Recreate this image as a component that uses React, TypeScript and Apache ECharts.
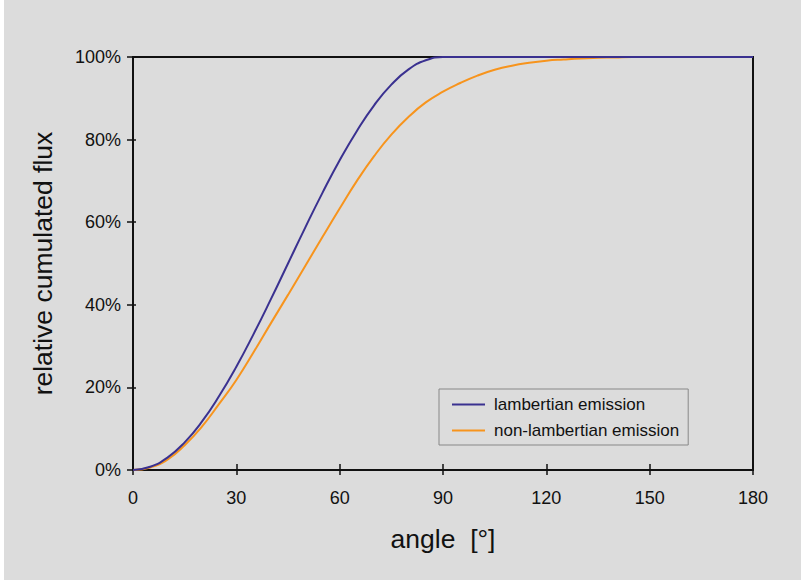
import React, { useEffect, useRef } from "react";
import * as echarts from "echarts";

const angles: number[] = [0,5,10,15,20,25,30,35,40,45,50,55,60,65,70,75,80,85,90,95,100,105,110,115,120,125,130,135,140,145,150,155,160,165,170,175,180];
const lambertian: number[] = [0,0.8,3,6.7,11.7,17.9,25,32.9,41.3,50,58.7,67.1,75,82.1,88.3,93.3,97,99.2,100,100,100,100,100,100,100,100,100,100,100,100,100,100,100,100,100,100,100];
const nonLambertian: number[] = [0,0.6,2.5,6,10.5,16,21.8,28.5,35.5,42.4,49.4,56.4,63.3,70,76,81.2,85.5,89,91.6,93.7,95.5,96.9,97.9,98.6,99.1,99.4,99.65,99.8,99.9,100,100,100,100,100,100,100,100];
const xTicks: number[] = [0, 30, 60, 90, 120, 150, 180];
const seriesNames: string[] = ["lambertian emission", "non-lambertian emission"];

const BG = "#dcdcdc";
const FONT = "'Liberation Sans', Arial, sans-serif";

export default function App() {
  const ref = useRef<HTMLDivElement>(null);
  useEffect(() => {
    if (!ref.current) return;
    const chart = echarts.init(ref.current, undefined, { renderer: "svg" });
    chart.setOption({
      animation: false,
      backgroundColor: BG,
      grid: { left: 129, top: 57, right: 48, bottom: 110, show: true, borderColor: "#111", borderWidth: 2, backgroundColor: BG },
      legend: {
        orient: "vertical",
        left: 435,
        top: 389,
        padding: [6, 9, 5, 13],
        icon: "rect",
        itemWidth: 33,
        itemHeight: 2,
        itemGap: 7,
        backgroundColor: BG,
        borderColor: "#888",
        borderWidth: 1,
        borderRadius: 0,
        textStyle: { fontFamily: FONT, fontSize: 17, lineHeight: 19, color: "#111", padding: [0, 0, 0, 4] },
        data: seriesNames,
      },
      xAxis: [
        {
          type: "value",
          min: 0,
          max: 180,
          interval: 30,
          name: "angle  [°]",
          nameLocation: "middle",
          nameGap: 55,
          nameTextStyle: { fontFamily: FONT, fontSize: 26.5, color: "#111" },
          axisLine: { show: true, lineStyle: { color: "#111", width: 2 } },
          axisTick: { show: true, length: 5, lineStyle: { color: "#111", width: 1.5 } },
          axisLabel: {
            margin: 19,
            fontFamily: FONT,
            fontSize: 18,
            color: "#111",
            formatter: (v: number) => (xTicks.includes(v) ? String(v) : ""),
          },
          splitLine: { show: false },
        },
        {
          type: "value",
          min: 0,
          max: 180,
          interval: 30,
          position: "bottom",
          axisLine: { show: false },
          axisTick: { show: true, inside: true, length: 6, lineStyle: { color: "#111", width: 1.5 } },
          axisLabel: { show: false },
          splitLine: { show: false },
        },
      ],
      yAxis: [
        {
          type: "value",
          min: 0,
          max: 100,
          interval: 20,
          name: "relative cumulated flux",
          nameLocation: "middle",
          nameGap: 77,
          nameTextStyle: { fontFamily: FONT, fontSize: 26.5, color: "#111" },
          axisLine: { show: true, lineStyle: { color: "#111", width: 2 } },
          axisTick: { show: true, length: 6, lineStyle: { color: "#111", width: 1.5 } },
          axisLabel: { margin: 12, fontFamily: FONT, fontSize: 18, color: "#111", formatter: "{value}%" },
          splitLine: { show: false },
        },
        {
          type: "value",
          min: 0,
          max: 100,
          interval: 20,
          position: "left",
          axisLine: { show: false },
          axisTick: { show: true, inside: true, length: 3, lineStyle: { color: "#111", width: 1.5 } },
          axisLabel: { show: false },
          splitLine: { show: false },
        },
      ],
      series: [
        {
          name: seriesNames[0],
          type: "line",
          smooth: true,
          symbol: "none",
          lineStyle: { color: "#3a3190", width: 2 },
          itemStyle: { color: "#3a3190" },
          data: angles.map((a, i) => [a, lambertian[i]]),
          z: 3,
        },
        {
          name: seriesNames[1],
          type: "line",
          smooth: true,
          symbol: "none",
          lineStyle: { color: "#f7941d", width: 2 },
          itemStyle: { color: "#f7941d" },
          data: angles.map((a, i) => [a, nonLambertian[i]]),
          z: 2,
        },
      ],
    });
    return () => chart.dispose();
  }, []);
  return (
    <div style={{ position: "fixed", left: 0, top: 0, width: 801, height: 580, background: "#fff" }}>
      <div ref={ref} style={{ position: "absolute", left: 4, top: 0, width: 797, height: 580 }} />
    </div>
  );
}
